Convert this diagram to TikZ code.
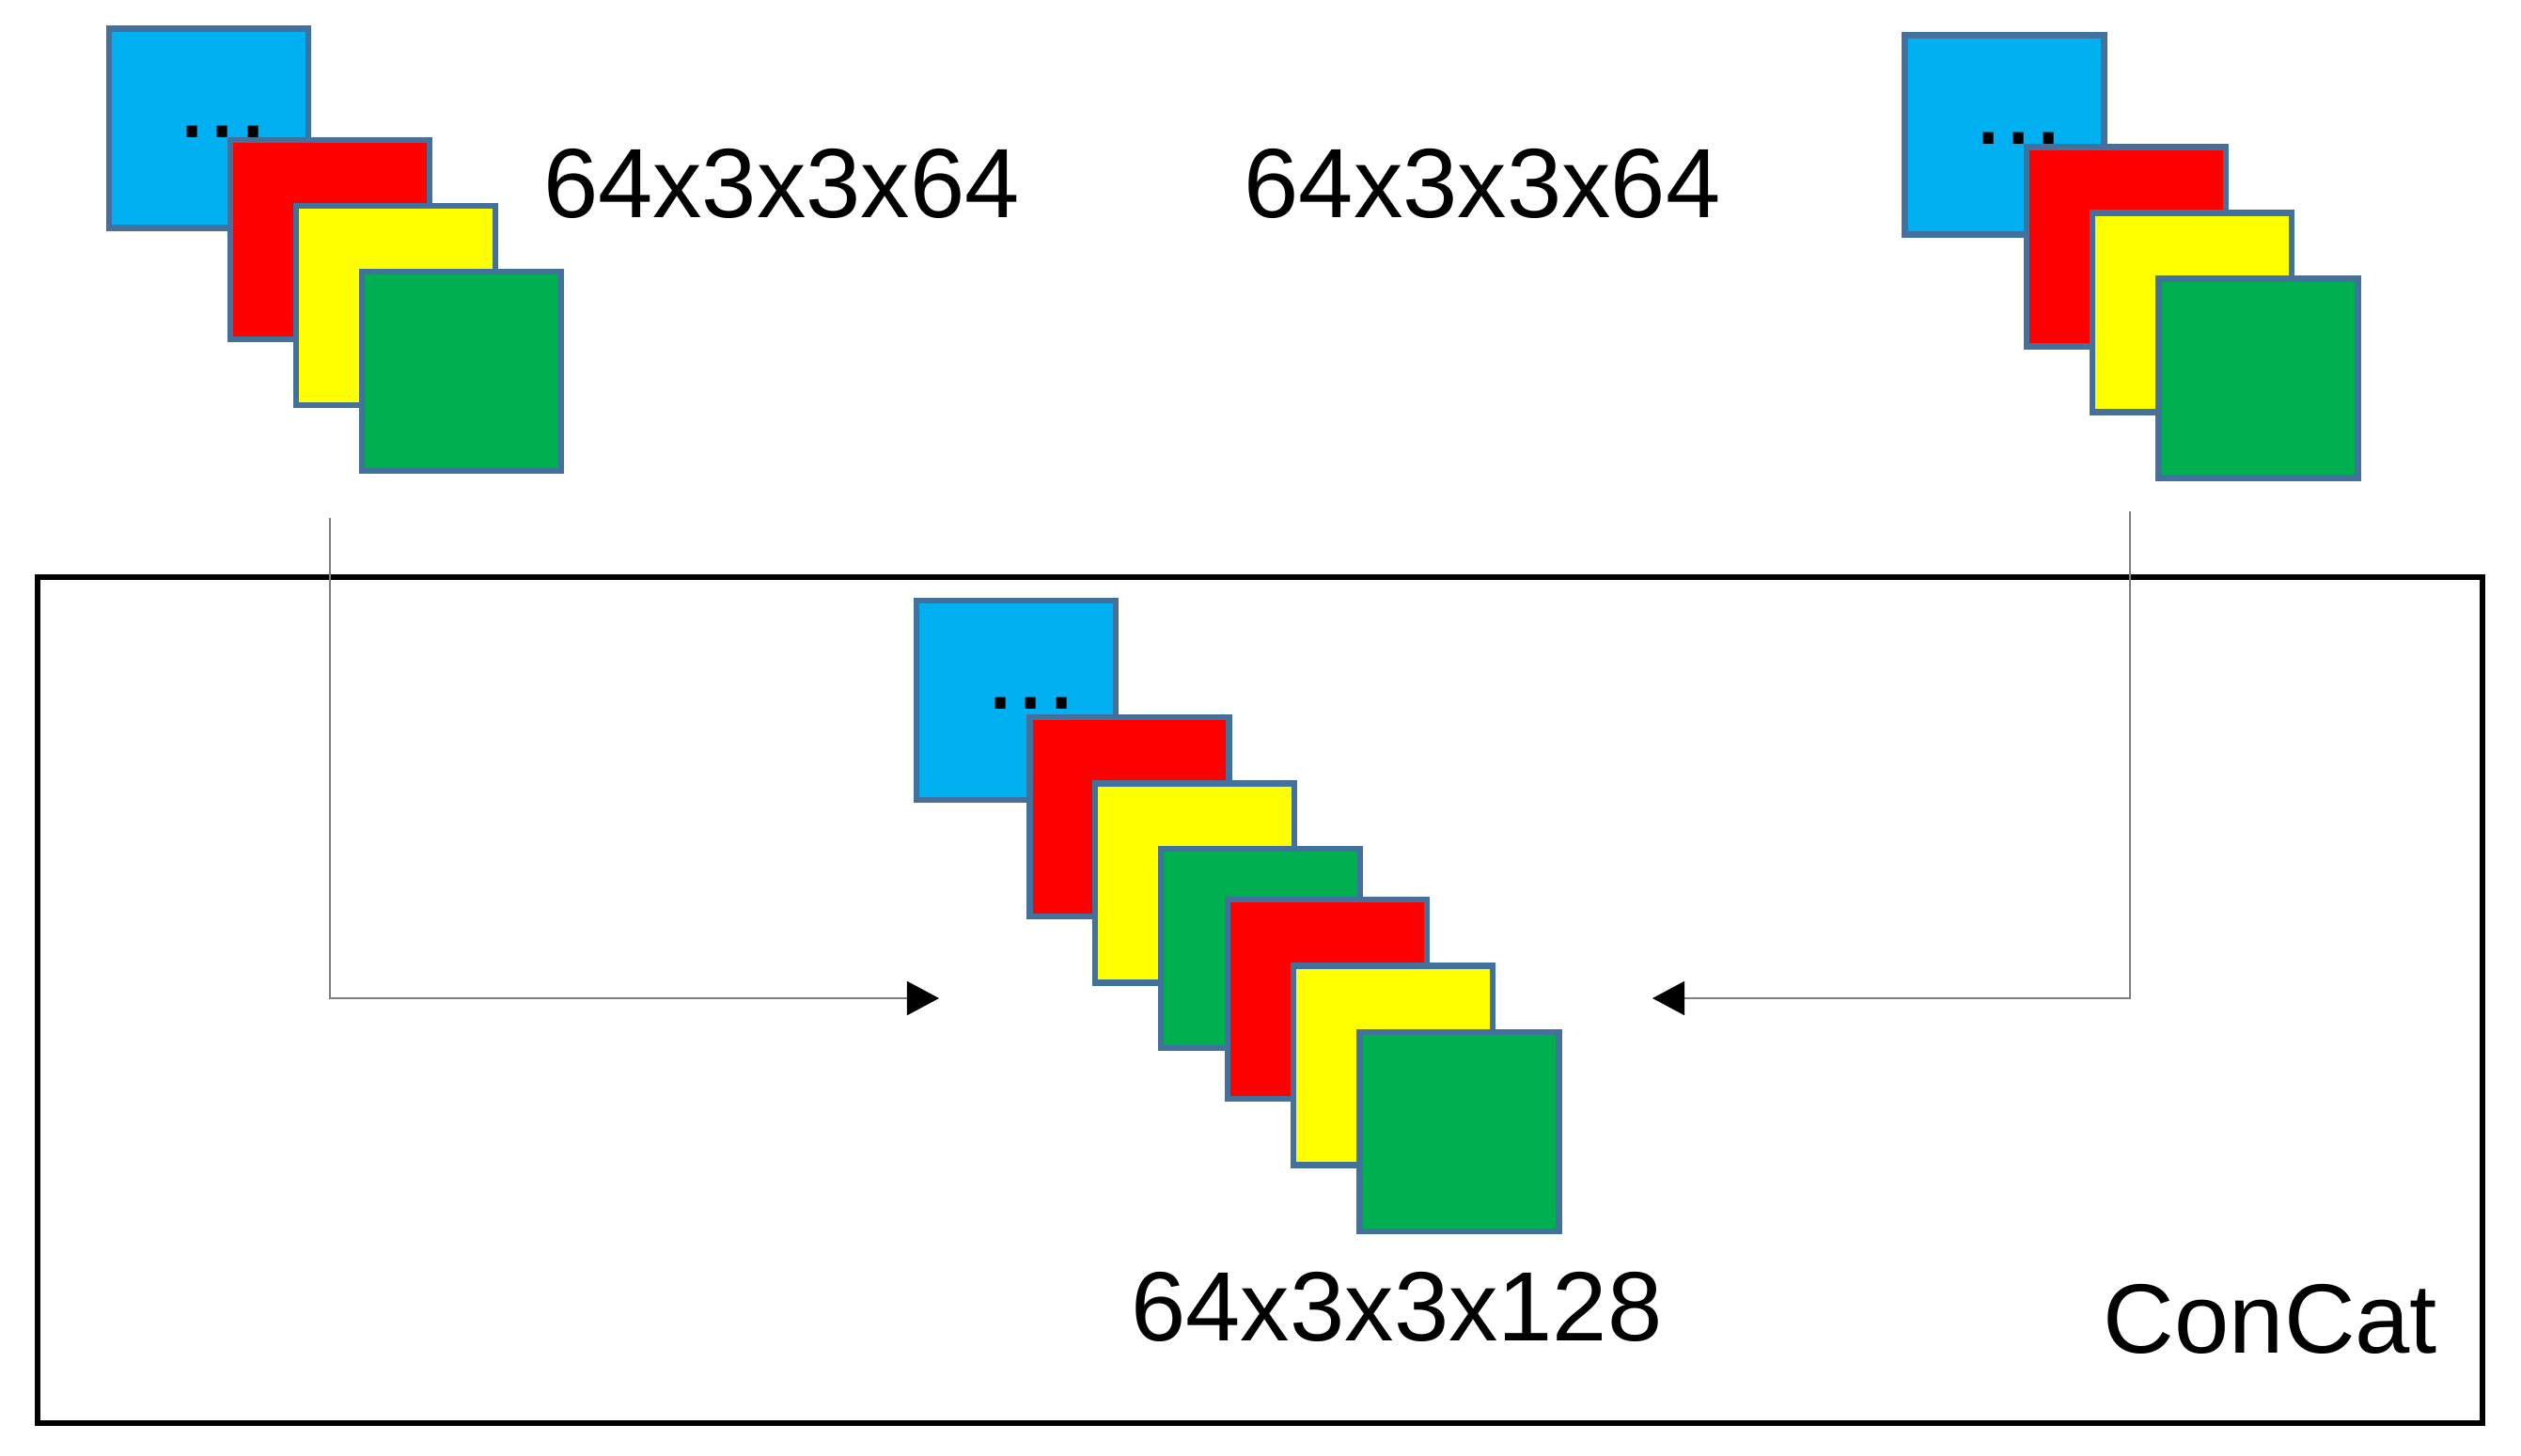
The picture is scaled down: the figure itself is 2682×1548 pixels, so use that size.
\documentclass[tikz,border=0pt]{standalone}
\usepackage{fontspec}
\setmainfont{Liberation Sans}
\usetikzlibrary{arrows.meta}
\definecolor{sqedge}{HTML}{41719C}
\definecolor{cblue}{HTML}{00B0F0}
\definecolor{cred}{HTML}{FF0000}
\definecolor{cyellow}{HTML}{FFFF00}
\definecolor{cgreen}{HTML}{00B050}
\definecolor{conn}{HTML}{7F7F7F}
\begin{document}
\begin{tikzpicture}[x=0.01cm,y=-0.01cm,
  sq/.style={rectangle,draw=sqedge,line width=1.85pt,minimum size=2.12cm,inner sep=0pt},
  bluesq/.style={sq,fill=cblue},
  redsq/.style={sq,fill=cred},
  yellowsq/.style={sq,fill=cyellow},
  greensq/.style={sq,fill=cgreen},
  dots/.style={anchor=base,inner sep=0pt,font=\fontsize{33}{40}\selectfont},
  lbl/.style={anchor=base,inner sep=0pt,font=\fontsize{29.8}{36}\selectfont},
  frame/.style={draw=black,line width=1.7pt},
  connector/.style={draw=conn,line width=0.5pt,-{Triangle[length=0.34cm,width=0.36cm,color=black]}}
]
\useasboundingbox (0,0) rectangle (2682,1548);
\fill[white] (0,0) rectangle (2682,1548);

% ConCat frame
\draw[frame] (40,614) rectangle (2641,1514);

% left stack
\node[bluesq] (lb) at (222,136.5) {};
\node[dots] (ld) at (237,146) {...};
\node[redsq] (lr) at (351,255) {};
\node[yellowsq] (ly) at (421,325) {};
\node[greensq] (lg) at (491,395) {};

% right stack
\node[bluesq] (rb) at (2132.5,143.5) {};
\node[dots] (rd) at (2147.5,153) {...};
\node[redsq] (rr) at (2262,262.5) {};
\node[yellowsq] (ry) at (2332,332.5) {};
\node[greensq] (rg) at (2402.5,402.5) {};

% center stack
\node[bluesq] (cb) at (1081,745) {};
\node[dots] (cd) at (1097,754) {...};
\node[redsq] (cr1) at (1201.5,869) {};
\node[yellowsq] (cy1) at (1271,939.5) {};
\node[greensq] (cg1) at (1341,1009) {};
\node[redsq] (cr2) at (1412,1063) {};
\node[yellowsq] (cy2) at (1482,1133.5) {};
\node[greensq] (cg2) at (1552.5,1204) {};

% labels
\node[lbl] (lab1) at (831.5,231) {64x3x3x64};
\node[lbl] (lab2) at (1577,231) {64x3x3x64};
\node[lbl] (lab3) at (1486,1426) {64x3x3x128};
\node[lbl] (labc) at (2415.5,1439) {ConCat};

% connectors
\coordinate (lstart) at (351,551);
\coordinate (ltip) at (999,1062);
\coordinate (rstart) at (2266,544);
\coordinate (rtip) at (1758,1062);
\draw[connector] (lstart) |- (ltip);
\draw[connector] (rstart) |- (rtip);
\end{tikzpicture}
\end{document}
